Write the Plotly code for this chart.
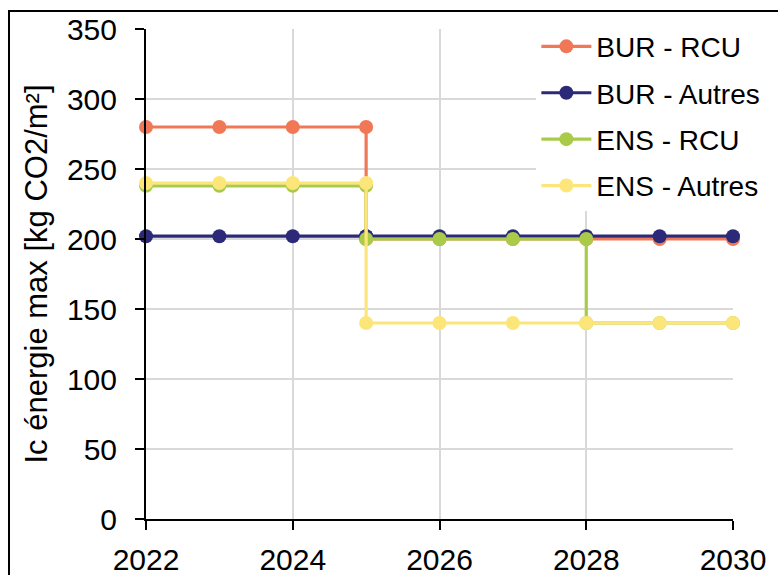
import plotly.graph_objects as go

# Years with a repeated entry where the limit steps down
years_bur = [2022, 2023, 2024, 2025, 2025, 2026, 2027, 2028, 2029, 2030]
years_ens_rcu = [2022, 2023, 2024, 2025, 2025, 2026, 2027, 2028, 2028, 2029, 2030]
years_ens_autres = [2022, 2023, 2024, 2025, 2025, 2026, 2027, 2028, 2029, 2030]

# Ic énergie max values [kg CO2/m²]
bur_rcu = [280, 280, 280, 280, 200, 200, 200, 200, 200, 200]
bur_autres = [202, 202, 202, 202, 202, 202, 202, 202, 202, 202]
ens_rcu = [238, 238, 238, 238, 200, 200, 200, 200, 140, 140, 140]
ens_autres = [240, 240, 240, 240, 140, 140, 140, 140, 140, 140]

series = [
    ("BUR - RCU", years_bur, bur_rcu, "#F07857"),
    ("BUR - Autres", years_bur, bur_autres, "#2C2A78"),
    ("ENS - RCU", years_ens_rcu, ens_rcu, "#AACB4A"),
    ("ENS - Autres", years_ens_autres, ens_autres, "#FCE67A"),
]

FONT = "Liberation Sans, Arial, sans-serif"

fig = go.Figure()
for name, xs, ys, color in series:
    fig.add_trace(go.Scatter(
        x=xs, y=ys, name=name, mode="lines+markers",
        line=dict(color=color, width=3.2),
        marker=dict(color=color, size=14),
        cliponaxis=False,
        legendgroup=name,
    ))

fig.update_layout(
    width=778, height=575,
    margin=dict(l=146, r=45, t=29, b=56),
    paper_bgcolor="white", plot_bgcolor="white",
    font=dict(family=FONT, color="black", size=30),
    showlegend=True,
    legend=dict(
        x=0.665, y=1.015, xanchor="left", yanchor="top",
        bgcolor="white", borderwidth=0,
        font=dict(family=FONT, size=28, color="black"),
        itemwidth=50, tracegroupgap=7,
        traceorder="grouped",
    ),
    xaxis=dict(
        range=[2022, 2030], tickmode="linear", tick0=2022, dtick=2,
        showgrid=True, gridcolor="#D9D9D9", gridwidth=1.5,
        showline=True, linecolor="black", linewidth=2,
        ticks="outside", ticklen=9, tickwidth=2, tickcolor="black",
        tickfont=dict(family=FONT, size=30, color="black"),
        ticklabelstandoff=4,
        zeroline=False, fixedrange=True, automargin=False,
    ),
    yaxis=dict(
        range=[0, 350], tickmode="linear", tick0=0, dtick=50,
        showgrid=True, gridcolor="#D9D9D9", gridwidth=1.5,
        showline=True, linecolor="black", linewidth=2,
        ticks="outside", ticklen=9, tickwidth=2, tickcolor="black",
        tickfont=dict(family=FONT, size=30, color="black"),
        ticklabelstandoff=12,
        title=dict(text="Ic énergie max [kg CO2/m²]",
                   font=dict(family=FONT, size=31, color="black"),
                   standoff=10),
        zeroline=False, fixedrange=True, automargin=False,
    ),
)

# Chart frame: only its left and top edges fall inside the page
fig.add_shape(type="path", xref="paper", yref="paper",
              path="M -0.2334 -0.3 L -0.2334 1.0367 L 1.3 1.0367",
              line=dict(color="black", width=2), layer="below")

fig.write_html("out.html")
